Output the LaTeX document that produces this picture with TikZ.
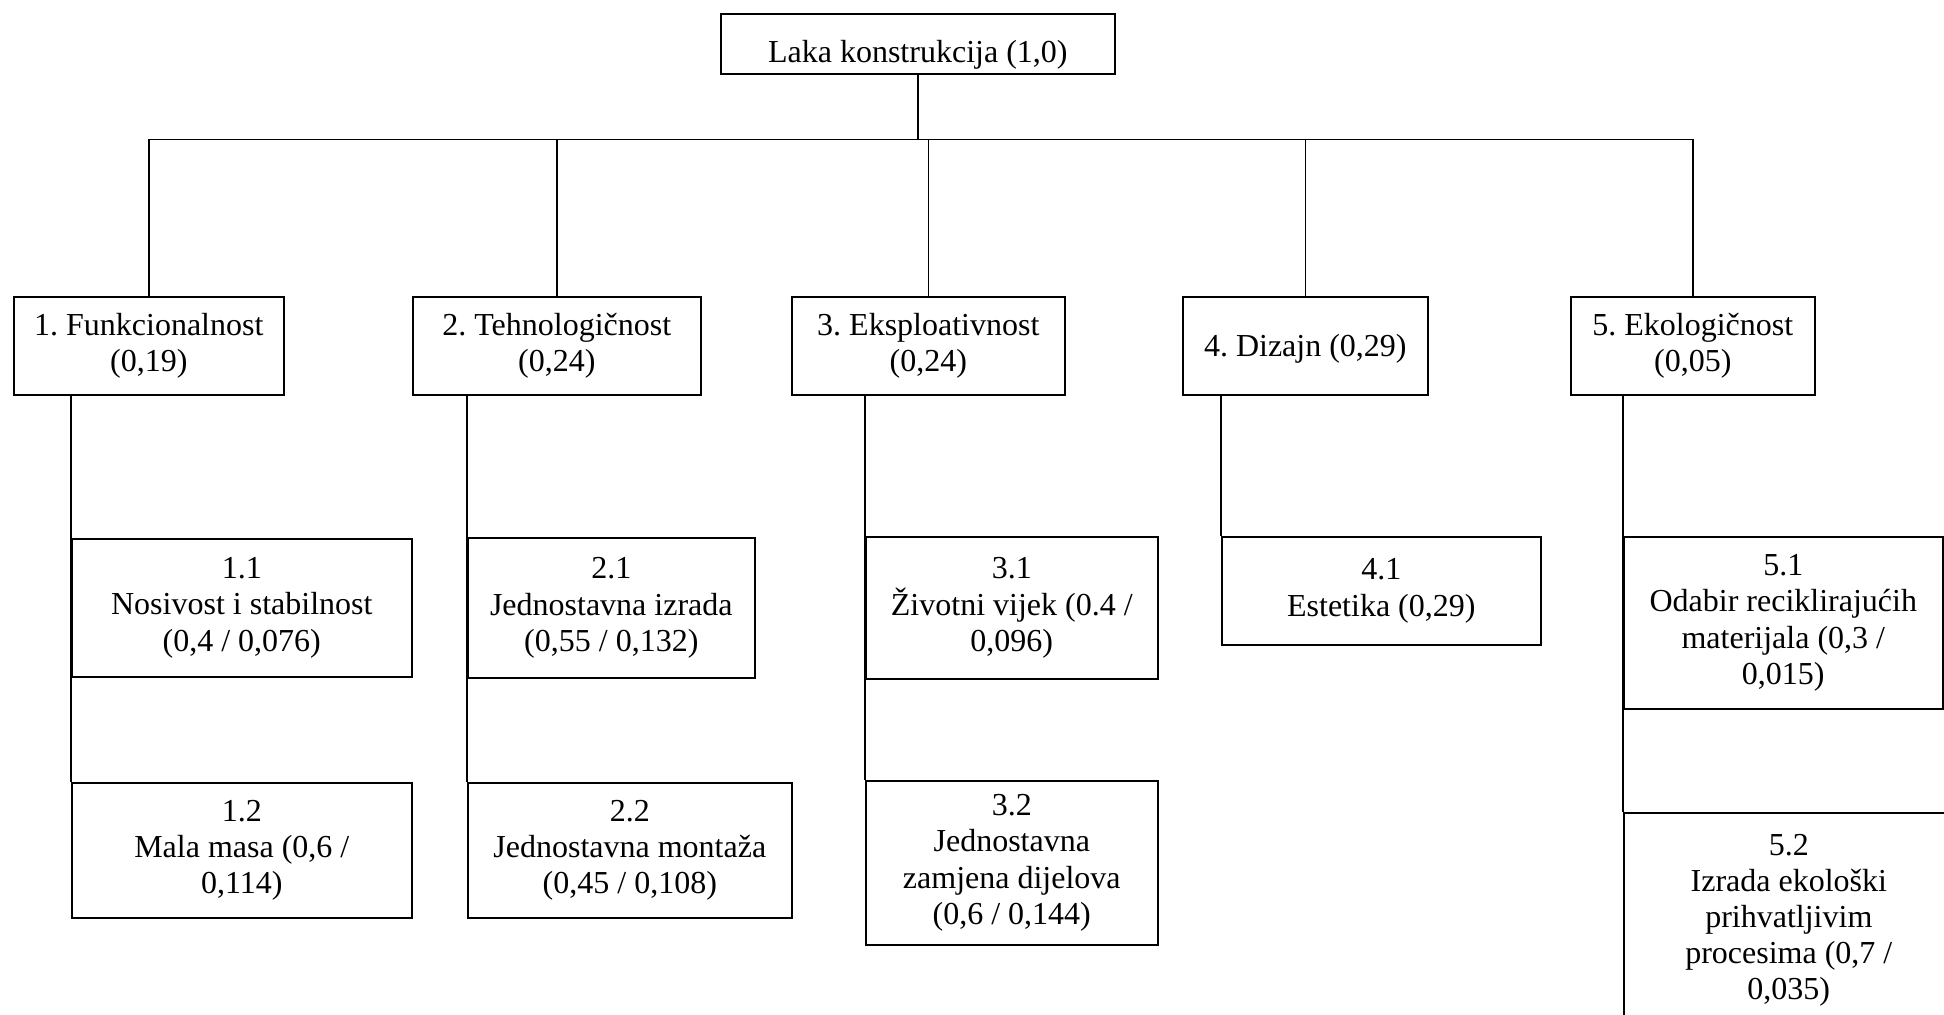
\documentclass[tikz,border=0pt]{standalone}
\usepackage{fontspec}
\setmainfont{Liberation Serif}
\frenchspacing
\begin{document}
\begin{tikzpicture}[x=0.5pt,y=-0.5pt,
  box/.style={draw, line width=0.8pt, inner sep=0pt, align=center, anchor=north west,
    font=\fontsize{16}{18.1}\selectfont},
  rootbox/.style={box, execute at begin node={\rule{0pt}{22pt}}},
  midbox/.style={box, execute at begin node={\rule{0pt}{16pt}}},
  onebox/.style={box, execute at begin node={\rule{0pt}{14.5pt}}},
  sz/.style 2 args={minimum width=#1*0.5pt, minimum height=#2*0.5pt},
  conn/.style={line width=0.8pt}]
\useasboundingbox (0,0) rectangle (1944,1014);
\clip (0,0) rectangle (1944,1014);
% root
\node[rootbox, sz={394}{60}] (root) at (720,13) {Laka konstrukcija (1,0)};
% level 1
\node[midbox, sz={270}{98}] (c1) at (13,296) {1. Funkcionalnost\\(0,19)};
\node[midbox, sz={288}{98}] (c2) at (412,296) {2. Tehnologičnost\\(0,24)};
\node[midbox, sz={273}{98}] (c3) at (791,296) {3. Eksploativnost\\(0,24)};
\node[onebox, sz={245}{98}] (c4) at (1182,296) {4. Dizajn (0,29)};
\node[midbox, sz={244}{98}] (c5) at (1570,296) {5. Ekologičnost\\(0,05)};
% level 2
\node[box, sz={340}{138}] (c11) at (71,538) {1.1\\Nosivost i stabilnost\\(0,4 / 0,076)};
\node[box, sz={340}{135}] (c12) at (71,782) {1.2\\Mala masa (0,6 /\\0,114)};
\node[box, sz={287}{140}] (c21) at (467,537) {2.1\\Jednostavna izrada\\(0,55 / 0,132)};
\node[box, sz={324}{135}] (c22) at (467,782) {2.2\\Jednostavna montaža\\(0,45 / 0,108)};
\node[box, sz={292}{142}] (c31) at (865,536) {3.1\\Životni vijek (0.4 /\\0,096)};
\node[box, sz={292}{164}] (c32) at (865,780) {3.2\\Jednostavna\\zamjena dijelova\\(0,6 / 0,144)};
\node[box, sz={319}{108}] (c41) at (1221,536) {4.1\\Estetika (0,29)};
\node[box, sz={319}{172}] (c51) at (1623,536) {5.1\\Odabir reciklirajućih\\materijala (0,3 /\\0,015)};
\node[box, sz={330}{215}] (c52) at (1623,812) {5.2\\Izrada ekološki\\prihvatljivim\\procesima (0,7 /\\0,035)};
% connectors root -> level 1
\foreach \c in {c1,c2,c3,c4,c5}
  \draw[conn] (root.south) -- ++(0,65) -| (\c.north);
% connectors level 1 -> level 2
\draw[conn] (c11.north west |- c1.south) -- (c12.north west);
\draw[conn] (c21.north west |- c2.south) -- (c22.north west);
\draw[conn] (c31.north west |- c3.south) -- (c32.north west);
\draw[conn] (c41.north west |- c4.south) -- (c41.north west);
\draw[conn] (c51.north west |- c5.south) -- (c52.north west);
\end{tikzpicture}
\end{document}
